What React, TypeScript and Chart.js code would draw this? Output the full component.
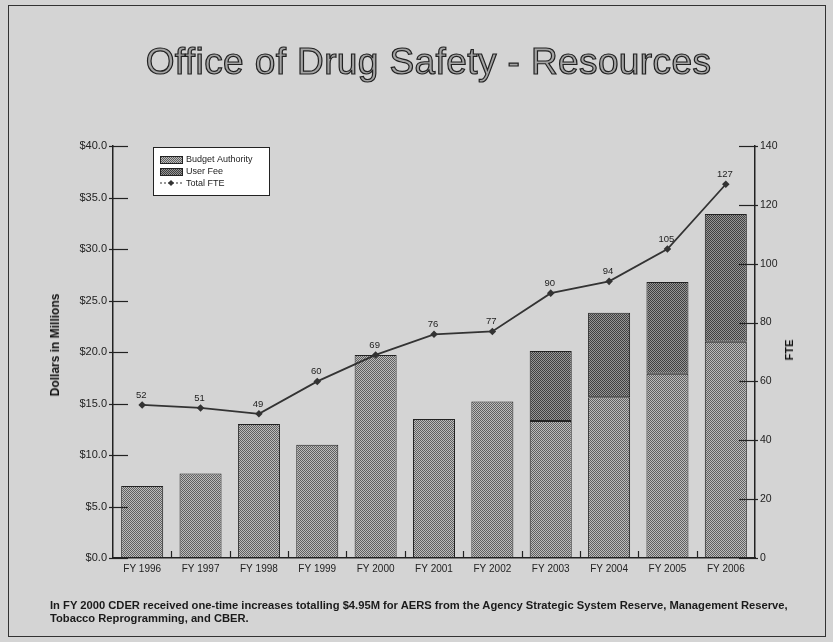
import React, { useEffect, useRef } from "react";
import { Chart, registerables } from "chart.js";
Chart.register(...registerables);

const categories = ["FY 1996", "FY 1997", "FY 1998", "FY 1999", "FY 2000", "FY 2001", "FY 2002", "FY 2003", "FY 2004", "FY 2005", "FY 2006"];
const budgetAuthority = [7.0, 8.2, 13.0, 11.0, 19.7, 13.5, 15.2, 13.3, 15.6, 17.9, 21.0];
const userFee = [0, 0, 0, 0, 0, 0, 0, 6.8, 8.2, 8.9, 12.4];
const totalFTE = [52, 51, 49, 60, 69, 76, 77, 90, 94, 105, 127];
const dollarTicks = [0, 5, 10, 15, 20, 25, 30, 35, 40];
const fteTicks = [0, 20, 40, 60, 80, 100, 120, 140];
const seriesNames = ["Budget Authority", "User Fee", "Total FTE"];
const titleText = "Office of Drug Safety - Resources";
const footnoteLines = [
  "In FY 2000 CDER received one-time increases totalling $4.95M for AERS from the Agency Strategic System Reserve, Management Reserve,",
  "Tobacco Reprogramming, and CBER.",
];

function makePattern(c1: string, c2: string): CanvasPattern | string {
  const p = document.createElement("canvas");
  p.width = 4;
  p.height = 4;
  const g = p.getContext("2d");
  if (!g) return c1;
  for (let y = 0; y < 4; y++) {
    for (let x = 0; x < 4; x++) {
      g.fillStyle = (x + y) % 2 === 0 ? c1 : c2;
      g.fillRect(x, y, 1, 1);
    }
  }
  const ctx = document.createElement("canvas").getContext("2d");
  return (ctx && ctx.createPattern(p, "repeat")) || c1;
}

const FONT = "'Liberation Sans', Arial, sans-serif";

export default function App() {
  const ref = useRef<HTMLCanvasElement | null>(null);

  useEffect(() => {
    if (!ref.current) return;
    const baFill = makePattern("#606060", "#bcbcbc");
    const ufFill = makePattern("#404040", "#969696");

    const custom = {
      id: "custom",
      afterDraw(chart: any) {
        const { ctx, chartArea: a, scales } = chart;
        ctx.save();
        ctx.strokeStyle = "#222";
        ctx.lineWidth = 1.2;
        dollarTicks.forEach((v) => {
          const y = Math.round(scales.y.getPixelForValue(v)) + 0.5;
          ctx.beginPath();
          ctx.moveTo(a.left - 4, y);
          ctx.lineTo(a.left + 15, y);
          ctx.stroke();
        });
        fteTicks.forEach((v) => {
          const y = Math.round(scales.y1.getPixelForValue(v)) + 0.5;
          ctx.beginPath();
          ctx.moveTo(a.right - 16, y);
          ctx.lineTo(a.right + 3, y);
          ctx.stroke();
        });
        const n = categories.length;
        const w = (a.right - a.left) / n;
        for (let i = 1; i < n; i++) {
          const x = Math.round(a.left + i * w) + 0.5;
          ctx.beginPath();
          ctx.moveTo(x, a.bottom);
          ctx.lineTo(x, a.bottom - 7);
          ctx.stroke();
        }
        const meta = chart.getDatasetMeta(2);
        ctx.fillStyle = "#222";
        ctx.font = `9.5px ${FONT}`;
        ctx.textAlign = "center";
        ctx.textBaseline = "bottom";
        meta.data.forEach((pt: any, i: number) => {
          ctx.fillText(String(totalFTE[i]), pt.x - 1, pt.y - 5);
        });
        const lx = a.left + 40;
        const ly = a.top + 1;
        ctx.fillStyle = "#ffffff";
        ctx.fillRect(lx, ly, 116, 48);
        ctx.strokeStyle = "#222";
        ctx.lineWidth = 1;
        ctx.strokeRect(lx + 0.5, ly + 0.5, 116, 48);
        const rows = [ly + 12, ly + 24, ly + 36];
        ctx.textAlign = "left";
        ctx.textBaseline = "middle";
        ctx.font = `9px ${FONT}`;
        [baFill, ufFill].forEach((f, i) => {
          ctx.fillStyle = f as any;
          ctx.fillRect(lx + 7, rows[i] - 3, 22, 7);
          ctx.strokeStyle = "#222";
          ctx.strokeRect(lx + 7.5, rows[i] - 2.5, 22, 7);
          ctx.fillStyle = "#222";
          ctx.fillText(seriesNames[i], lx + 33, rows[i] + 1);
        });
        ctx.strokeStyle = "#333";
        ctx.setLineDash([2, 2]);
        ctx.beginPath();
        ctx.moveTo(lx + 7, rows[2]);
        ctx.lineTo(lx + 29, rows[2]);
        ctx.stroke();
        ctx.setLineDash([]);
        ctx.fillStyle = "#333";
        ctx.beginPath();
        ctx.moveTo(lx + 18, rows[2] - 3);
        ctx.lineTo(lx + 21, rows[2]);
        ctx.lineTo(lx + 18, rows[2] + 3);
        ctx.lineTo(lx + 15, rows[2]);
        ctx.closePath();
        ctx.fill();
        ctx.fillStyle = "#222";
        ctx.fillText(seriesNames[2], lx + 33, rows[2] + 1);
        ctx.restore();
      },
    };

    const chart = new Chart(ref.current, {
      type: "bar",
      data: {
        labels: categories,
        datasets: [
          {
            label: seriesNames[0],
            data: budgetAuthority,
            backgroundColor: baFill as any,
            borderColor: "#222",
            borderWidth: 1,
            borderSkipped: false,
            barPercentage: 0.72,
            categoryPercentage: 1,
            stack: "s",
            yAxisID: "y",
            order: 2,
          },
          {
            label: seriesNames[1],
            data: userFee,
            backgroundColor: ufFill as any,
            borderColor: "#222",
            borderWidth: 1,
            borderSkipped: false,
            barPercentage: 0.72,
            categoryPercentage: 1,
            stack: "s",
            yAxisID: "y",
            order: 2,
          },
          {
            type: "line",
            label: seriesNames[2],
            data: totalFTE,
            yAxisID: "y1",
            borderColor: "#333",
            borderWidth: 1.8,
            backgroundColor: "#333",
            pointStyle: "rectRot",
            pointRadius: 2.5,
            tension: 0,
            order: 0,
          } as any,
        ],
      },
      options: {
        responsive: false,
        animation: false,
        layout: { padding: { top: 146, bottom: 56, left: 0, right: 0 } },
        plugins: { legend: { display: false }, tooltip: { enabled: false } },
        scales: {
          x: {
            stacked: true,
            grid: { display: false, drawTicks: false },
            border: { display: true, color: "#222", width: 1.5 },
            ticks: { font: { family: FONT, size: 10 }, color: "#222", padding: 5, maxRotation: 0, autoSkip: false },
            afterFit: (s: any) => { s.height = 28; },
          },
          y: {
            position: "left",
            stacked: true,
            min: 0,
            max: 40,
            afterBuildTicks: (s: any) => { s.ticks = dollarTicks.map((v) => ({ value: v })); },
            grid: { display: false, drawTicks: false },
            border: { display: true, color: "#222", width: 1.5 },
            ticks: {
              font: { family: FONT, size: 11 },
              color: "#222",
              padding: 6,
              callback: (v: any) => "$" + Number(v).toFixed(1),
            },
            afterFit: (s: any) => { s.width = 113; },
          },
          y1: {
            position: "right",
            min: 0,
            max: 140,
            afterBuildTicks: (s: any) => { s.ticks = fteTicks.map((v) => ({ value: v })); },
            grid: { display: false, drawTicks: false },
            border: { display: true, color: "#222", width: 1.5 },
            ticks: { font: { family: FONT, size: 10.5 }, color: "#222", padding: 5 },
            afterFit: (s: any) => { s.width = 78; },
          },
        },
      },
      plugins: [custom],
    } as any);
    return () => chart.destroy();
  }, []);

  return (
    <div style={{ position: "fixed", left: 0, top: 0, width: 833, height: 642, background: "#d4d4d4", overflow: "hidden", fontFamily: FONT }}>
      <div style={{ position: "absolute", left: 8, top: 5, width: 816, height: 630, border: "1.5px solid #333" }} />
      <canvas ref={ref} width={833} height={642} style={{ position: "absolute", left: 0, top: 0 }} />
      <div style={{ position: "absolute", left: 12, width: 833, top: 39, textAlign: "center", fontSize: 37, color: "#a4a4a4", WebkitTextStroke: "1.2px #222", lineHeight: "46px", letterSpacing: 0.4 }}>
        {titleText}
      </div>
      <div style={{ position: "absolute", left: 55, top: 345, transform: "translate(-50%, -50%) rotate(-90deg)", fontSize: 12, fontWeight: "bold", color: "#111", whiteSpace: "nowrap" }}>
        Dollars in Millions
      </div>
      <div style={{ position: "absolute", left: 789, top: 350, transform: "translate(-50%, -50%) rotate(-90deg)", fontSize: 11, fontWeight: "bold", color: "#111", whiteSpace: "nowrap" }}>
        FTE
      </div>
      <div style={{ position: "absolute", left: 50, top: 599, fontSize: 11.2, fontWeight: "bold", color: "#1a1a1a", lineHeight: "12.5px", whiteSpace: "nowrap" }}>
        {footnoteLines.map((l, i) => (<div key={i}>{l}</div>))}
      </div>
    </div>
  );
}
